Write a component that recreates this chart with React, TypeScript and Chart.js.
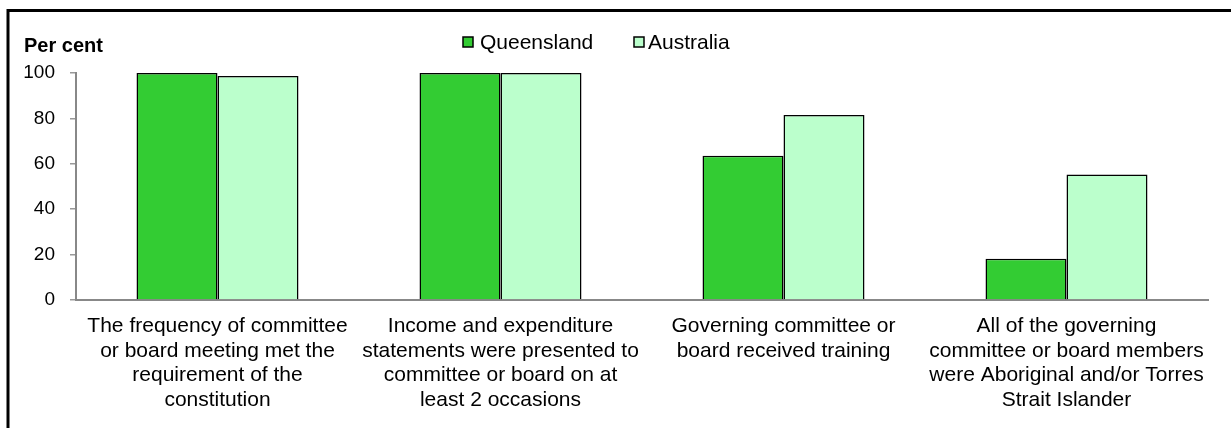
import React, { useEffect, useRef } from "react";
import { Chart, registerables } from "chart.js";

Chart.register(...registerables);

const categories: string[][] = [
  ["The frequency of committee", "or board meeting met the", "requirement of the", "constitution"],
  ["Income and expenditure", "statements were presented to", "committee or board on at", "least 2 occasions"],
  ["Governing committee or", "board received training"],
  ["All of the governing", "committee or board members", "were Aboriginal and/or Torres", "Strait Islander"],
];

const seriesNames = ["Queensland", "Australia"];
const queensland = [100, 100, 63.6, 18.2];
const australia = [98.7, 100, 81.5, 55.3];
const yTicks = [0, 20, 40, 60, 80, 100];

const colors = ["#33CC33", "#BBFFCC"];
const FONT = "'Liberation Sans', Arial, sans-serif";

const decorPlugin = {
  id: "decor",
  afterDraw(chart: any) {
    const ctx = chart.ctx;
    ctx.save();
    // frame
    ctx.strokeStyle = "#000";
    ctx.lineWidth = 3;
    ctx.beginPath();
    ctx.moveTo(8, 440);
    ctx.lineTo(8, 10.5);
    ctx.lineTo(1240, 10.5);
    ctx.stroke();
    // axis title
    ctx.fillStyle = "#000";
    ctx.font = `bold 20px ${FONT}`;
    ctx.textAlign = "left";
    ctx.textBaseline = "middle";
    ctx.fillText("Per cent", 24, 46);
    // legend
    const boxX = [463, 634];
    const textX = [480, 648];
    ctx.font = `21px ${FONT}`;
    chart.data.datasets.forEach((ds: any, i: number) => {
      ctx.fillStyle = ds.backgroundColor;
      ctx.fillRect(boxX[i], 37, 10, 10);
      ctx.strokeStyle = "#000";
      ctx.lineWidth = 1.5;
      ctx.strokeRect(boxX[i], 37, 10, 10);
      ctx.fillStyle = "#000";
      ctx.fillText(ds.label, textX[i], 43);
    });
    ctx.restore();
  },
};

export default function App() {
  const ref = useRef<HTMLCanvasElement | null>(null);
  useEffect(() => {
    if (!ref.current) return;
    const chart = new Chart(ref.current, {
      type: "bar",
      data: {
        labels: categories,
        datasets: [
          {
            label: seriesNames[0],
            data: queensland,
            backgroundColor: colors[0],
            borderColor: "#000",
            borderWidth: 1.5,
          },
          {
            label: seriesNames[1],
            data: australia,
            backgroundColor: colors[1],
            borderColor: "#000",
            borderWidth: 1.5,
          },
        ],
      },
      options: {
        responsive: false,
        devicePixelRatio: 1,
        animation: false,
        layout: { padding: { left: 0, right: 23, top: 73, bottom: 0 } },
        plugins: {
          legend: { display: false },
          tooltip: { enabled: false },
        },
        datasets: {
          bar: { categoryPercentage: 0.5724, barPercentage: 1 },
        },
        scales: {
          x: {
            grid: { display: false },
            border: { display: true, color: "#888", width: 2 },
            ticks: {
              color: "#000",
              font: { family: FONT, size: 21, lineHeight: 1.17 },
              padding: 6,
              maxRotation: 0,
              minRotation: 0,
              autoSkip: false,
            },
            afterFit: (scale: any) => {
              scale.height = 128;
            },
          },
          y: {
            min: 0,
            max: 100,
            afterBuildTicks: (scale: any) => {
              scale.ticks = yTicks.map((v) => ({ value: v }));
            },
            grid: {
              drawOnChartArea: false,
              drawTicks: true,
              tickLength: 6,
              color: "#999",
              lineWidth: 1.5,
            },
            border: { display: true, color: "#888", width: 2 },
            ticks: {
              color: "#000",
              font: { family: FONT, size: 19 },
              padding: 15,
            },
            afterFit: (scale: any) => {
              scale.width = 76;
            },
          },
        },
      },
      plugins: [decorPlugin],
    });
    return () => chart.destroy();
  }, []);
  return (
    <canvas
      ref={ref}
      width={1231}
      height={428}
      style={{ position: "fixed", left: 0, top: 0, width: 1231, height: 428 }}
    />
  );
}
